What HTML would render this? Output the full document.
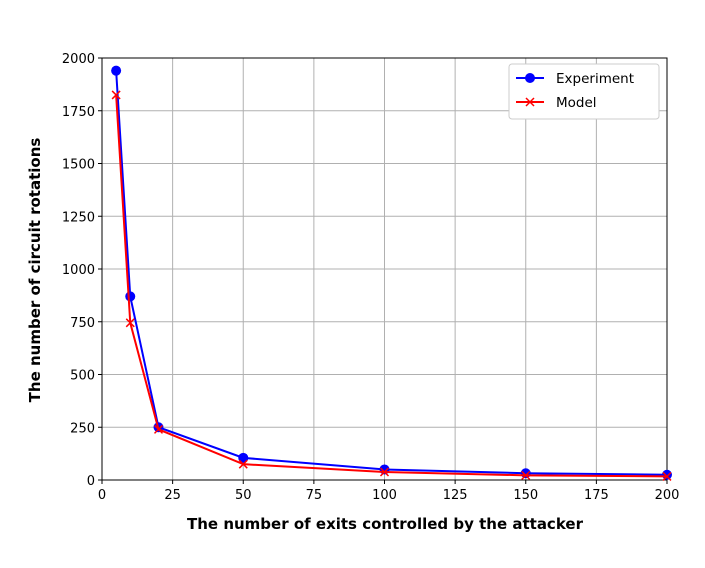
<!DOCTYPE html>
<html><head><meta charset="utf-8"><style>
body{margin:0;background:#fff;font-family:"Liberation Sans","DejaVu Sans",sans-serif}
svg text{font-family:"DejaVu Sans","Liberation Sans",sans-serif}
</style></head><body>
<svg id="c" width="705" height="563"></svg>
<script>
const xVals=[5,10,20,50,100,150,200];
const expVals=[1940,870,250,105,50,32,25];
const modelVals=[1825,745,240,75,38,22,17];
const xTicks=[0,25,50,75,100,125,150,175,200];
const yTicks=[0,250,500,750,1000,1250,1500,1750,2000];
const L=102,R=667,T=58,B=480;
const sx=v=>L+(v-0)/200*(R-L), sy=v=>B-v/2000*(B-T);
const svg=document.getElementById('c'),NS='http://www.w3.org/2000/svg';
function mk(t,a,p){const e=document.createElementNS(NS,t);for(const k in a)e.setAttribute(k,a[k]);(p||svg).appendChild(e);return e;}
xTicks.forEach(v=>{const g=mk('line',{x1:sx(v),x2:sx(v),y1:T,y2:B,stroke:'#b0b0b0','stroke-width':1});

mk('line',{x1:sx(v),x2:sx(v),y1:B,y2:B+4,stroke:'#000'});
const t=mk('text',{x:sx(v),y:B+19,'text-anchor':'middle','font-size':13});t.textContent=v;
});
yTicks.forEach(v=>{const g=mk('line',{x1:L,x2:R,y1:sy(v),y2:sy(v),stroke:'#b0b0b0','stroke-width':1});

mk('line',{x1:L-4,x2:L,y1:sy(v),y2:sy(v),stroke:'#000'});
const t=mk('text',{x:L-7,y:sy(v)+5,'text-anchor':'end','font-size':13});t.textContent=v;
});
const fr=mk('rect',{x:L,y:T,width:R-L,height:B-T,fill:'none',stroke:'#000','stroke-width':1});

const pe=mk('polyline',{points:xVals.map((x,i)=>sx(x)+','+sy(expVals[i])).join(' '),fill:'none',stroke:'#0000ff','stroke-width':2});

xVals.forEach((x,i)=>{const c=mk('circle',{cx:sx(x),cy:sy(expVals[i]),r:5,fill:'#0000ff'});
});
const pm=mk('polyline',{points:xVals.map((x,i)=>sx(x)+','+sy(modelVals[i])).join(' '),fill:'none',stroke:'#ff0000','stroke-width':2});

xVals.forEach((x,i)=>{const X=sx(x),Y=sy(modelVals[i]);
const p=mk('path',{d:`M${X-4},${Y-4}L${X+4},${Y+4}M${X-4},${Y+4}L${X+4},${Y-4}`,stroke:'#ff0000','stroke-width':1.5});
});
const lg=mk('g',{});
mk('rect',{x:509,y:64,width:150,height:55,rx:3,fill:'#fff',stroke:'#ccc'},lg);
mk('line',{x1:516,x2:544,y1:78,y2:78,stroke:'#0000ff','stroke-width':2},lg);
mk('circle',{cx:530,cy:78,r:5,fill:'#0000ff'},lg);
let t=mk('text',{x:556,y:83,'font-size':13.5},lg);t.textContent='Experiment';

mk('line',{x1:516,x2:544,y1:102,y2:102,stroke:'#ff0000','stroke-width':2},lg);
mk('path',{d:'M526,98L534,106M526,106L534,98',stroke:'#ff0000','stroke-width':1.5},lg);
t=mk('text',{x:556,y:107,'font-size':13.5},lg);t.textContent='Model';

t=mk('text',{x:385,y:529,'text-anchor':'middle','font-size':15,'font-weight':'bold'});t.textContent='The number of exits controlled by the attacker';

t=mk('text',{x:0,y:0,'text-anchor':'middle','font-size':15,'font-weight':'bold',transform:'translate(40,270) rotate(-90)'});t.textContent='The number of circuit rotations';

</script>
</body></html>
